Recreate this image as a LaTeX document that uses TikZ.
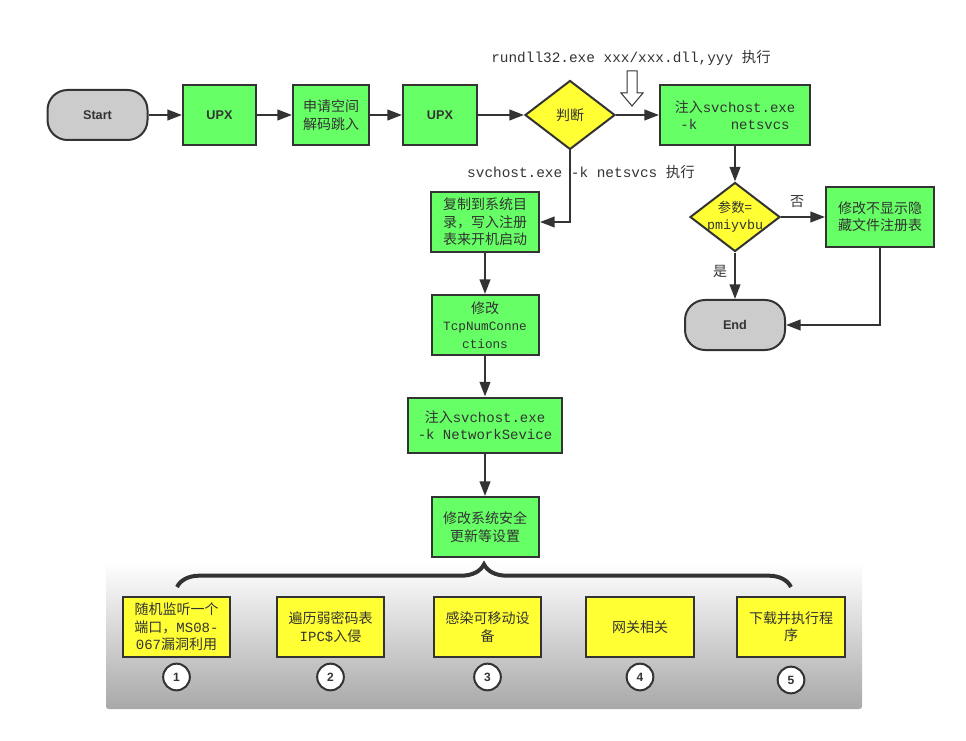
\documentclass[tikz,border=0pt]{standalone}
\usepackage{fontspec}
\setmainfont{Noto Sans CJK SC}
\newfontfamily\mono{Liberation Mono}
\newfontfamily\arial{Liberation Sans}
\usetikzlibrary{shapes.geometric,arrows.meta,decorations.pathreplacing}

\definecolor{boxgreen}{HTML}{66FF66}
\definecolor{boxyellow}{HTML}{FFFF33}
\definecolor{termgray}{HTML}{CCCCCC}
\definecolor{linegray}{HTML}{333333}
\definecolor{panelbot}{HTML}{A8A8A8}

\tikzset{
  base/.style={draw=linegray, line width=1.5pt, align=center, inner sep=2pt,
    text=linegray, font=\fontsize{10.5}{13}\selectfont},
  proc/.style={base, fill=boxgreen, minimum width=81pt, minimum height=45pt},
  task/.style={base, fill=boxyellow, minimum width=80.5pt, minimum height=45pt},
  term/.style={base, fill=termgray, rounded corners=15pt, minimum width=75pt,
    minimum height=37.5pt, font=\arial\bfseries\fontsize{9.5}{11}\selectfont},
  decide/.style={base, diamond, fill=boxyellow, minimum width=67.5pt,
    minimum height=51.75pt, inner sep=0pt},
  num/.style={circle, draw=linegray, line width=1.5pt, fill=white, text=linegray,
    minimum size=20pt, inner sep=0pt, font=\arial\bfseries\fontsize{9}{11}\selectfont},
  flow/.style={draw=linegray, line width=1.5pt, -{Triangle[length=11pt,width=8pt]}},
  note/.style={font=\mono\fontsize{10.8}{12}\selectfont, inner sep=1pt, text=linegray},
}

\begin{document}
\begin{tikzpicture}[x=0.75pt, y=-0.75pt]
  \useasboundingbox (0,0) rectangle (966,741);

  % grey panel behind the five tasks
  \shade[top color=white, bottom color=panelbot, rounded corners=2pt]
    (106,563) rectangle (862,709);

  % main line
  \node[term] (start) at (97.5,115) {Start};
  \node[proc, minimum width=54.75pt, font=\arial\bfseries\fontsize{9.5}{11}\selectfont] (upx1) at (219.5,115) {UPX};
  \node[proc, minimum width=57pt] (alloc) at (331,115) {申请空间\\解码跳入};
  \node[proc, minimum width=55.5pt, font=\arial\bfseries\fontsize{9.5}{11}\selectfont] (upx2) at (440,115) {UPX};
  \node[decide] (judge) at (570,115) {判断};
  \node[proc, minimum width=112.5pt] (injnet) at (735,115)
    {注入{\mono svchost.exe}\\{\mono -k\ \ \ \ netsvcs}};

  % right branch
  \node[decide, label={[align=center, text=linegray, font=\fontsize{10}{12.5}\selectfont]center:参数=\\{\mono pmiyvbu}}]
    (param) at (735,217) {};
  \node[proc] (hide) at (880,217) {修改不显示隐\\藏文件注册表};
  \node[term] (end) at (735,325) {End};
  \node[font=\fontsize{10.5}{12}\selectfont, text=linegray] (no) at (797,202) {否};
  \node[font=\fontsize{10.5}{12}\selectfont, text=linegray] (yes) at (720,271) {是};

  % left branch
  \node[proc] (copy) at (485,222) {复制到系统目\\录，写入注册\\表来开机启动};
  \node[proc, minimum width=80.25pt] (tcp) at (485,325)
    {修改\\{\mono\fontsize{9.5}{13}\selectfont TcpNumConne}\\{\mono\fontsize{9.5}{13}\selectfont ctions}};
  \node[proc, minimum width=115.5pt, minimum height=41.25pt] (injnsvc) at (485,425)
    {注入{\mono svchost.exe}\\{\mono -k NetworkSevice}};
  \node[proc, minimum width=80.25pt] (secure) at (485,527) {修改系统安全\\更新等设置};

  % notes
  \node[note] (rundll) at (631,58) {rundll32.exe xxx/xxx.dll,yyy {\rmfamily 执行}};
  \node[note] (svcnote) at (581,172) {svchost.exe -k netsvcs {\rmfamily 执行}};
  \draw[draw=linegray, line width=0.75pt, fill=white]
    (627,71) -- (637,71) -- (637,93) -- (643,93) -- (632,106)
    -- (621,93) -- (627,93) -- cycle;

  % tasks
  \node[task] (t1) at (176.5,627) {随机监听一个\\端口，{\mono MS08-}\\{\mono 067}漏洞利用};
  \node[task] (t2) at (330.5,627) {遍历弱密码表\\{\mono IPC\$}入侵};
  \node[task] (t3) at (487.5,627) {感染可移动设\\备};
  \node[task] (t4) at (640,627) {网关相关};
  \node[task] (t5) at (791,627) {下载并执行程\\序};
  \node[num] (n1) at (176.5,677) {1};
  \node[num] (n2) at (330.5,677) {2};
  \node[num] (n3) at (487.5,677) {3};
  \node[num] (n4) at (640,677) {4};
  \node[num] (n5) at (791,680) {5};

  \coordinate (bl) at (177,587);
  \coordinate (br) at (791,587);

  \begin{scope}[flow]
    \draw (start) -- (upx1);
    \draw (upx1) -- (alloc);
    \draw (alloc) -- (upx2);
    \draw (upx2) -- (judge);
    \draw (judge) -- (injnet);
    \draw (judge.south) |- (copy.east);
    \draw (copy) -- (tcp);
    \draw (tcp) -- (injnsvc);
    \draw (injnsvc) -- (secure);
    \draw (injnet) -- (param);
    \draw (param) -- (hide);
    \draw (param) -- (end);
    \draw (hide.south) |- (end.east);
  \end{scope}
  \draw[draw=linegray, line width=3pt, decorate,
    decoration={brace, amplitude=17pt}] (bl) -- (br);
\end{tikzpicture}
\end{document}
